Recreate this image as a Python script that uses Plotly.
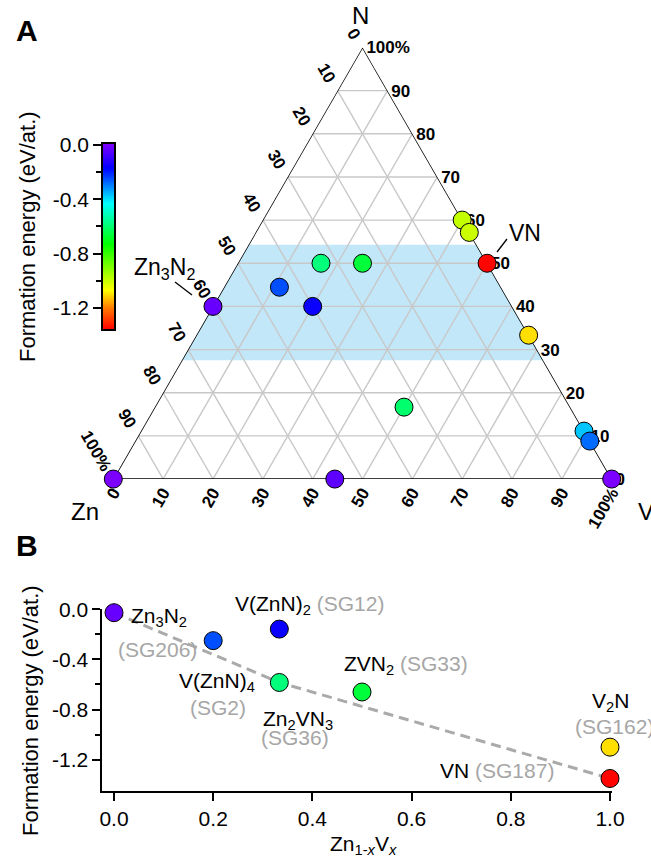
import numpy as np
import plotly.graph_objects as go

W, H = 651, 857
FONT = "Liberation Sans, Arial, sans-serif"

# ---------------------------------------------------------------
# Zn–V–N phases: atomic fractions and formation energy (eV/atom)
# ---------------------------------------------------------------
phase_names = ["Zn", "Zn3N2", "V(ZnN)4", "V(ZnN)2", "Zn2VN3", "ZnVN2", "VN", "V2N",
               "V2N3", "V3N4", "Zn2V3N", "V8N", "V10N", "V", "Zn5V4"]
frac_n = [0, 2/5, 4/9, 2/5, 1/2, 1/2, 1/2, 1/3, 3/5, 4/7, 1/6, 1/9, 0.088, 0, 0]
frac_zn = [1, 3/5, 4/9, 2/5, 1/3, 1/4, 0, 0, 0, 0, 1/3, 0, 0, 0, 5/9]
frac_v = [0, 0, 1/9, 1/5, 1/6, 1/4, 1/2, 2/3, 2/5, 3/7, 1/2, 8/9, 0.912, 1, 4/9]
form_energy = [0.0, -0.027, -0.25, -0.158, -0.584, -0.66, -1.35, -1.10,
               -0.99, -1.0, -0.6, -0.37, -0.28, 0.0, -0.04]

# N-content window highlighted on the diagram
band_n_low, band_n_high = 0.275, 0.543

# ternary tick positions; every side is labelled with the complementary percentage
tern_ticks = [i / 10 for i in range(11)]
tern_tick_text = ["100%", "90", "80", "70", "60", "50", "40", "30", "20", "10", "0"]

# ---------------------------------------------------------------
# Panel B: formation energy versus Zn(1-x)V(x)
# ---------------------------------------------------------------
b_x = [0.0, 0.2, 1/3, 1/3, 0.5, 1.0, 1.0]
b_energy = [-0.027, -0.25, -0.158, -0.584, -0.66, -1.10, -1.35]
hull_x = [0.0, 1/3, 1.0]
hull_energy = [-0.027, -0.584, -1.35]

b_x_ticks = [0.0, 0.2, 0.4, 0.6, 0.8, 1.0]
b_x_text = ["0.0", "0.2", "0.4", "0.6", "0.8", "1.0"]
energy_ticks = [0.0, -0.4, -0.8, -1.2]
energy_text = ["0.0", "-0.4", "-0.8", "-1.2"]
energy_minor = [-0.2, -0.6, -1.0]

# colour scale shared by both panels
CB_MIN, CB_MAX = -1.355, 0.007
energy_colorscale = [
    [0.00, "#ff0000"],
    [0.12, "#ff8000"],
    [0.21, "#ffff00"],
    [0.46, "#00ff00"],
    [0.68, "#00ffff"],
    [0.87, "#0000ff"],
    [1.00, "#8000ff"],
]

BAND_COLOR = "#c2e7f9"
GRID_COLOR = "#c8c8c8"
HULL_COLOR = "#aaaaaa"
SG_COLOR = "#a6a6a6"
NBSP = "\u00a0"


def px_x(px):
    return px / W


def px_y(py):
    return 1 - py / H


fig = go.Figure()

# ---------------- Panel A: ternary diagram ----------------
band_a = [band_n_high, band_n_high, band_n_low, band_n_low]
band_b = [1 - band_n_high, 0, 0, 1 - band_n_low]
band_c = [0, 1 - band_n_high, 1 - band_n_low, 0]
fig.add_trace(go.Scatterternary(
    a=band_a, b=band_b, c=band_c, mode="lines", fill="toself",
    fillcolor=BAND_COLOR, line=dict(width=0, color=BAND_COLOR),
    hoverinfo="skip", showlegend=False, subplot="ternary"))

# grid lines every 10 %
grid_a, grid_b, grid_c = [], [], []
for k in tern_ticks[1:-1]:
    grid_a += [k, k, None]; grid_b += [1 - k, 0, None]; grid_c += [0, 1 - k, None]
    grid_a += [1 - k, 0, None]; grid_b += [k, k, None]; grid_c += [0, 1 - k, None]
    grid_a += [1 - k, 0, None]; grid_b += [0, 1 - k, None]; grid_c += [k, k, None]
fig.add_trace(go.Scatterternary(
    a=grid_a, b=grid_b, c=grid_c, mode="lines",
    line=dict(color=GRID_COLOR, width=1.4), connectgaps=False,
    hoverinfo="skip", showlegend=False, subplot="ternary"))

# triangle outline
fig.add_trace(go.Scatterternary(
    a=[1, 0, 0, 1], b=[0, 1, 0, 0], c=[0, 0, 1, 0], mode="lines",
    line=dict(color="black", width=1.5), cliponaxis=False,
    hoverinfo="skip", showlegend=False, subplot="ternary"))

fig.add_trace(go.Scatterternary(
    a=frac_n, b=frac_zn, c=frac_v, mode="markers", text=phase_names,
    marker=dict(size=18, color=form_energy, coloraxis="coloraxis",
                line=dict(color="black", width=1)),
    cliponaxis=False, showlegend=False, subplot="ternary"))

# ---------------- colour bar ----------------
ramp = np.linspace(CB_MIN, CB_MAX, 300)
fig.add_trace(go.Heatmap(
    x=[0], y=ramp, z=ramp[:, None], coloraxis="coloraxis",
    xaxis="x2", yaxis="y2", hoverinfo="skip"))

# ---------------- Panel B ----------------
fig.add_trace(go.Scatter(
    x=hull_x, y=hull_energy, mode="lines",
    line=dict(color=HULL_COLOR, width=3, dash="10px,6px"),
    xaxis="x", yaxis="y", showlegend=False, hoverinfo="skip"))
fig.add_trace(go.Scatter(
    x=b_x, y=b_energy, mode="markers",
    marker=dict(size=18, color=b_energy, coloraxis="coloraxis",
                line=dict(color="black", width=1)),
    cliponaxis=False, xaxis="x", yaxis="y", showlegend=False))

tern_axis_common = dict(
    tickmode="array", tickvals=tern_ticks,
    showgrid=False, showline=False, ticks="", layer="below traces",
    tickfont=dict(family=FONT, size=17, color="black", weight="bold"),
    title=dict(text=""),
)
# left-side labels sit a little further out along their own reading direction,
# right-side labels a little further right
left_text = [t + NBSP * 2 for t in tern_tick_text]
right_text = [NBSP + t for t in tern_tick_text]

text_font = dict(family=FONT, size=21, color="black")

annotations = [
    # panel letters
    dict(text="<b>A</b>", x=px_x(27), y=px_y(31), font=dict(family=FONT, size=30, color="black")),
    dict(text="<b>B</b>", x=px_x(27), y=px_y(545), font=dict(family=FONT, size=30, color="black")),
    # ternary corner titles
    dict(text="N", x=px_x(360), y=px_y(16), font=dict(family=FONT, size=24, color="black")),
    dict(text="Zn", x=px_x(85), y=px_y(511), font=dict(family=FONT, size=24, color="black")),
    dict(text="V", x=px_x(646), y=px_y(511), font=dict(family=FONT, size=24, color="black")),
    # compound labels in the ternary
    dict(text="Zn<sub>3</sub>N<sub>2</sub>", x=px_x(164), y=px_y(268), font=dict(family=FONT, size=23, color="black")),
    dict(text="VN", x=px_x(525), y=px_y(233), font=dict(family=FONT, size=23, color="black")),
    # vertical titles
    dict(text="Formation energy (eV/at.)", textangle=-90, x=px_x(28), y=px_y(237),
         font=dict(family=FONT, size=22, color="black")),
    dict(text="Formation energy (eV/at.)", textangle=-90, x=px_x(30), y=px_y(711),
         font=dict(family=FONT, size=22, color="black")),
    dict(text="Zn<sub>1-<i>x</i></sub>V<sub><i>x</i></sub>", x=px_x(364), y=px_y(845),
         font=dict(family=FONT, size=21, color="black")),
]
for a in annotations:
    a.update(xref="paper", yref="paper", showarrow=False, xanchor="center", yanchor="middle")

# labels attached to data in panel B: text, x, y, x-anchor, y-shift (px), colour
b_labels = [
    ("Zn<sub>3</sub>N<sub>2</sub>", 0.091, -0.061, "center", 0, "black"),
    ("(SG206)", 0.088, -0.317, "center", 0, SG_COLOR),
    ("V(ZnN)<sub>2</sub> <span style='color:%s'>(SG12)</span>" % SG_COLOR, 0.395, 0.0, "center", 4, "black"),
    ("V(ZnN)<sub>4</sub>", 0.207, -0.577, "center", 0, "black"),
    ("(SG2)", 0.210, -0.787, "center", 0, SG_COLOR),
    ("Zn<sub>2</sub>VN<sub>3</sub>", 0.371, -0.883, "center", 0, "black"),
    ("(SG36)", 0.365, -1.026, "center", 0, SG_COLOR),
    ("ZVN<sub>2</sub> <span style='color:%s'>(SG33)</span>" % SG_COLOR, 0.588, -0.444, "center", 0, "black"),
    ("V<sub>2</sub>N", 1.0, -0.737, "center", 0, "black"),
    ("(SG162)", 0.925, -0.936, "left", 0, SG_COLOR),
    ("VN <span style='color:%s'>(SG187)</span>" % SG_COLOR, 0.773, -1.287, "center", 0, "black"),
]
for txt, x, y, xa, ys, col in b_labels:
    annotations.append(dict(text=txt, x=x, y=y, xref="x", yref="y", showarrow=False,
                            xanchor=xa, yanchor="middle", yshift=ys,
                            font=dict(family=FONT, size=21, color=col)))

# leader lines for the ternary labels (pixel positions on the page)
leaders = [((175, 282), (192, 295)), ((497, 252), (507, 239))]
shapes = [dict(type="line", xref="paper", yref="paper",
               x0=px_x(p0[0]), y0=px_y(p0[1]), x1=px_x(p1[0]), y1=px_y(p1[1]),
               line=dict(color="black", width=1.3)) for p0, p1 in leaders]

axis_line = dict(showline=True, linecolor="black", linewidth=1.5, showgrid=False, zeroline=False)

fig.update_layout(
    width=W, height=H,
    # labels running past the page edge must not shrink the plotting area
    margin=dict(l=0, r=0, t=0, b=0, autoexpand=False),
    paper_bgcolor="white", plot_bgcolor="rgba(0,0,0,0)",
    font=dict(family=FONT, color="black"),
    showlegend=False,
    coloraxis=dict(colorscale=energy_colorscale, cmin=CB_MIN, cmax=CB_MAX, showscale=False),
    ternary=dict(
        domain=dict(x=[px_x(113.3), px_x(611.7)], y=[px_y(479.5), px_y(47)]),
        sum=1, bgcolor="rgba(0,0,0,0)",
        aaxis=dict(tern_axis_common, ticktext=left_text, tickangle=60),
        baxis=dict(tern_axis_common, ticktext=tern_tick_text, tickangle=-60),
        caxis=dict(tern_axis_common, ticktext=right_text, tickangle=0),
    ),
    xaxis=dict(axis_line, domain=[px_x(102.1), px_x(611.5)], range=[-0.024, 1.003], anchor="y",
               tickmode="array", tickvals=b_x_ticks, ticktext=b_x_text,
               ticks="outside", ticklen=8, tickwidth=1.5, tickcolor="black",
               tickfont=text_font),
    yaxis=dict(axis_line, domain=[px_y(791), px_y(609.3)], range=[-1.45, 0.0], anchor="x",
               tickmode="array", tickvals=energy_ticks, ticktext=energy_text,
               ticks="outside", ticklen=8, tickwidth=1.5, tickcolor="black",
               minor=dict(tickmode="array", tickvals=energy_minor, ticks="outside",
                          ticklen=5, tickwidth=1.5, tickcolor="black"),
               tickfont=text_font),
    xaxis2=dict(axis_line, mirror=True, domain=[px_x(103), px_x(114)], range=[-0.5, 0.5],
                anchor="y2", showticklabels=False, ticks=""),
    yaxis2=dict(axis_line, mirror=True, domain=[px_y(329), px_y(144)], range=[CB_MIN, CB_MAX],
                anchor="x2", side="left",
                tickmode="array", tickvals=energy_ticks, ticktext=energy_text,
                ticks="outside", ticklen=8, tickwidth=1.5, tickcolor="black",
                minor=dict(tickmode="array", tickvals=energy_minor, ticks="outside",
                           ticklen=5, tickwidth=1.5, tickcolor="black"),
                tickfont=text_font),
    annotations=annotations,
    shapes=shapes,
)

fig.write_html("out.html")
